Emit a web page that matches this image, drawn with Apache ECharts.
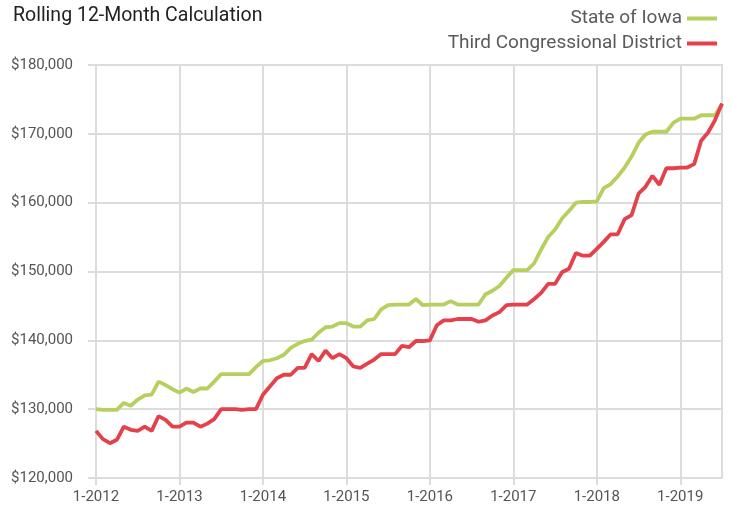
<!DOCTYPE html>
<html>
<head>
<meta charset="utf-8">
<script src="https://cdn.jsdelivr.net/npm/echarts@6/dist/echarts.min.js"></script>
<style>
  html, body { margin: 0; padding: 0; background: #fff; }
  #chart { width: 732px; height: 512px; }
</style>
</head>
<body>
<div id="chart"></div>
<script>
// months 1-2012 .. 7-2019
var months = [];
for (var y = 2012; y <= 2019; y++) {
  for (var m = 1; m <= 12; m++) {
    if (y === 2019 && m > 7) break;
    months.push(m + '-' + y);
  }
}

var iowa = [
  130000, 129900, 129900, 129900, 130900, 130500, 131400, 132000, 132100, 134000, 133500, 132900,
  132400, 133000, 132500, 133000, 133000, 134000, 135100, 135100, 135100, 135100, 135100, 136100,
  137000, 137100, 137400, 137900, 138900, 139500, 139900, 140100, 141100, 141900, 142000, 142500,
  142500, 142000, 142000, 142900, 143100, 144500, 145100, 145200, 145200, 145200, 146000, 145100,
  145200, 145200, 145200, 145700, 145200, 145200, 145200, 145200, 146700, 147200, 147900, 149100,
  150200, 150200, 150200, 151200, 153200, 155000, 156100, 157700, 158800, 160000, 160100, 160100,
  160200, 162100, 162700, 163800, 165100, 166700, 168700, 169900, 170300, 170300, 170300, 171600,
  172200, 172200, 172200, 172700, 172700, 172700, 174300
];

var district = [
  126850, 125650, 125050, 125550, 127450, 127000, 126850, 127450, 126850, 129000, 128450, 127450,
  127450, 128050, 128050, 127450, 127900, 128550, 130000, 130000, 130000, 129900, 130000, 130000,
  132100, 133300, 134500, 135000, 135000, 136000, 136000, 138000, 137000, 138500, 137400, 138000,
  137400, 136200, 136000, 136600, 137200, 138000, 138000, 138000, 139200, 139000, 139900, 139900,
  140000, 142200, 142900, 142900, 143100, 143100, 143100, 142700, 142900, 143600, 144100, 145100,
  145200, 145200, 145200, 146000, 146900, 148200, 148200, 149900, 150400, 152700, 152300, 152300,
  153300, 154300, 155400, 155400, 157600, 158200, 161300, 162300, 163900, 162600, 165000, 165000,
  165100, 165100, 165600, 169000, 170200, 172000, 174400
];

var chart = echarts.init(document.getElementById('chart'));
var gridColor = '#dcdcdc';
var font = 'Roboto, "Liberation Sans", sans-serif';

chart.setOption({
  animation: false,
  title: {
    text: 'Rolling 12-Month Calculation',
    left: 8,
    top: 1,
    textStyle: { fontFamily: font, fontSize: 19.5, fontWeight: 'normal', color: '#222' }
  },
  legend: {
    orient: 'vertical',
    right: 10,
    top: 4,
    align: 'right',
    itemWidth: 30,
    itemHeight: 4,
    itemGap: 6,
    icon: 'rect',
    textStyle: { fontFamily: font, fontSize: 19, color: '#5a5a5a' },
    data: ['State of Iowa', 'Third Congressional District']
  },
  grid: {
    left: 96, right: 10, top: 65, bottom: 34,
    show: true, borderColor: gridColor, borderWidth: 2
  },
  xAxis: {
    type: 'category',
    data: months,
    boundaryGap: false,
    axisLine: { lineStyle: { color: gridColor, width: 2 } },
    axisTick: { interval: 11, length: 7, lineStyle: { color: gridColor, width: 2 } },
    axisLabel: { interval: 11, margin: 12, color: '#555', fontFamily: font, fontSize: 15 },
    splitLine: { show: true, interval: 11, lineStyle: { color: gridColor, width: 2 } }
  },
  yAxis: {
    type: 'value',
    min: 120000,
    max: 180000,
    interval: 10000,
    axisLine: { show: false },
    axisTick: { show: true, length: 8, lineStyle: { color: gridColor, width: 2 } },
    axisLabel: {
      margin: 23, color: '#555', fontFamily: font, fontSize: 15,
      formatter: function (v) { return '$' + v.toLocaleString('en-US'); }
    },
    splitLine: { lineStyle: { color: gridColor, width: 2 } }
  },
  series: [
    {
      name: 'State of Iowa',
      type: 'line',
      data: iowa,
      showSymbol: false,
      color: '#b6cf5f',
      lineStyle: { width: 3.8 }
    },
    {
      name: 'Third Congressional District',
      type: 'line',
      data: district,
      showSymbol: false,
      color: '#e5414b',
      lineStyle: { width: 3.8 }
    }
  ]
});
</script>
</body>
</html>
